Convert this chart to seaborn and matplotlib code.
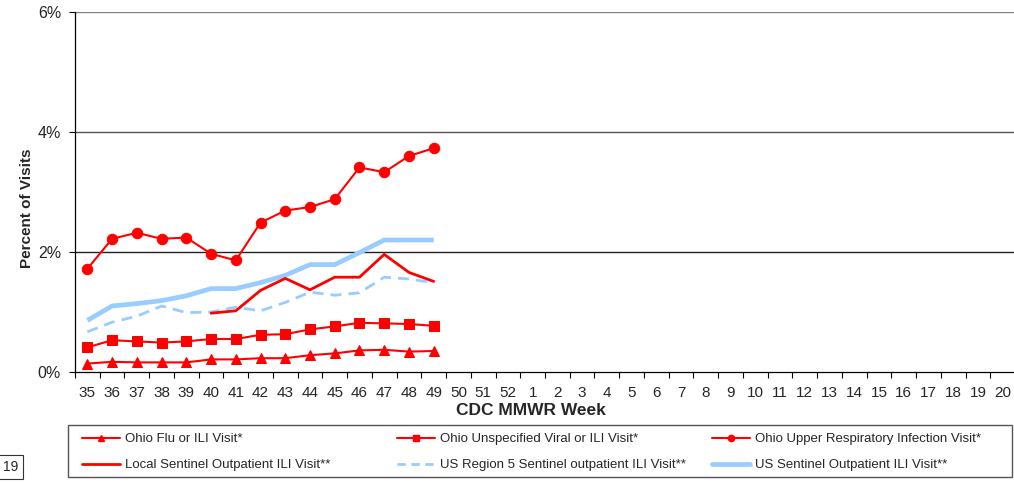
import matplotlib
matplotlib.use("Agg")
import matplotlib.pyplot as plt
import numpy as np
import seaborn as sns
from matplotlib.lines import Line2D
from matplotlib.patches import Rectangle

# CDC MMWR weeks on the x axis
weeks = [str(w) for w in range(35, 53)] + [str(w) for w in range(1, 21)]

# Percent of visits, weeks 35-49
ohio_flu = [0.14, 0.17, 0.16, 0.16, 0.16, 0.21, 0.21, 0.23, 0.23, 0.28, 0.31, 0.36, 0.37, 0.34, 0.35]
ohio_unspec = [0.41, 0.53, 0.51, 0.49, 0.51, 0.55, 0.55, 0.62, 0.63, 0.71, 0.76, 0.82, 0.81, 0.80, 0.77]
ohio_uri = [1.72, 2.22, 2.32, 2.22, 2.24, 1.97, 1.86, 2.49, 2.69, 2.75, 2.88, 3.41, 3.33, 3.60, 3.73]
# local sentinel starts at week 40
local_sent = [0.98, 1.02, 1.36, 1.56, 1.37, 1.58, 1.58, 1.96, 1.66, 1.51]
us_region5 = [0.67, 0.83, 0.93, 1.10, 0.99, 1.00, 1.08, 1.02, 1.16, 1.33, 1.28, 1.32, 1.58, 1.55, 1.49]
us_sent = [0.86, 1.10, 1.14, 1.19, 1.27, 1.39, 1.39, 1.49, 1.61, 1.79, 1.79, 1.99, 2.20, 2.20, 2.20]

labels = ["Ohio Flu or ILI Visit*", "Ohio Unspecified Viral or ILI Visit*",
          "Ohio Upper Respiratory Infection Visit*", "Local Sentinel Outpatient ILI Visit**",
          "US Region 5 Sentinel outpatient ILI Visit**", "US Sentinel Outpatient ILI Visit**"]

sns.set_style("white")
plt.rcParams['font.family'] = ['Liberation Sans', 'DejaVu Sans']

red = '#FF0000'
blue = '#99CCFF'

fig = plt.figure(figsize=(10.14, 4.83), dpi=100)
ax = fig.add_axes([75 / 1014, 1 - 372 / 483, (1015 - 75) / 1014, (372 - 12) / 483])

pos = np.arange(len(weeks))
n = len(ohio_uri)

sns.lineplot(x=pos[:n], y=us_sent, color=blue, linewidth=3.4, ax=ax, solid_capstyle='butt')
sns.lineplot(x=pos[:n], y=us_region5, color=blue, linewidth=2.0, ax=ax, dashes=False,
             linestyle=(0, (4, 2.5)))
sns.lineplot(x=pos[5:5 + len(local_sent)], y=local_sent, color=red, linewidth=2.0, ax=ax)
sns.lineplot(x=pos[:n], y=ohio_uri, color=red, linewidth=1.5, marker='o', markersize=7.5,
             markeredgecolor=red, ax=ax)
sns.lineplot(x=pos[:n], y=ohio_unspec, color=red, linewidth=1.5, marker='s', markersize=6.8,
             markeredgecolor=red, ax=ax)
sns.lineplot(x=pos[:n], y=ohio_flu, color=red, linewidth=1.5, marker='^', markersize=7.5,
             markeredgecolor=red, ax=ax)

ax.set_xlim(-0.5, len(weeks) - 0.5)
ax.set_ylim(0, 6)
ax.set_xticks(pos)
ax.set_xticklabels(weeks, fontsize=11)
ax.set_xticks(np.arange(-0.5, len(weeks), 1), minor=True)
ax.tick_params(axis='x', which='major', length=0, pad=10)
ax.tick_params(axis='x', which='minor', length=4, direction='out', width=0.8, color='black', bottom=True)
ax.set_yticks([0, 2, 4, 6])
ax.set_yticklabels(['0%', '2%', '4%', '6%'], fontsize=11.5)
ax.tick_params(axis='y', length=4, direction='out', width=0.8, color='black', left=True, pad=6)

for yv, c in [(2, '#222222'), (4, '#555555'), (6, '#808080')]:
    ax.axhline(yv, color=c, linewidth=1.0, zorder=0)

for side in ['top', 'right']:
    ax.spines[side].set_visible(False)
for side in ['left', 'bottom']:
    ax.spines[side].set_color('black')
    ax.spines[side].set_linewidth(0.9)

ax.set_xlabel("CDC MMWR Week", fontsize=12.5, fontweight='bold')
ax.xaxis.set_label_coords((531 - 75) / 940, -(403 - 372) / 360)
ax.set_ylabel("Percent of Visits", fontsize=11, fontweight='bold')
ax.yaxis.set_label_coords(-(75 - 34) / 940, (372 - 208) / 360)

# legend: three columns of two rows, inside one frame
handles = [
    (Line2D([], [], color=red, lw=1.5, marker='^', markersize=5),
     Line2D([], [], color=red, lw=2.0)),
    (Line2D([], [], color=red, lw=1.5, marker='s', markersize=5),
     Line2D([], [], color=blue, lw=2.0, linestyle=(0, (3, 2)))),
    (Line2D([], [], color=red, lw=1.5, marker='o', markersize=4.5),
     Line2D([], [], color=blue, lw=3.4)),
]
col_labels = [(labels[0], labels[3]), (labels[1], labels[4]), (labels[2], labels[5])]
col_x = [82, 397, 712]
for hs, ls, x0 in zip(handles, col_labels, col_x):
    fig.legend(list(hs), list(ls), loc='upper left',
               bbox_to_anchor=(x0 / 1014, 1 - 433 / 483), fontsize=9.5,
               frameon=False, handlelength=2.9, handletextpad=0.35,
               borderaxespad=0, borderpad=0, labelspacing=1.05)

fig.patches.append(Rectangle((68 / 1014, 1 - 477 / 483), (1012 - 68) / 1014, (477 - 425) / 483,
                             transform=fig.transFigure, fill=False, edgecolor='#555555',
                             linewidth=1.0))

fig.text(3 / 1014, 1 - 467 / 483, "19", fontsize=10, va='center', ha='left',
         bbox=dict(boxstyle='square,pad=0.35', facecolor='white', edgecolor='#333333', linewidth=0.8))

fig.savefig('out.png', dpi=100)
